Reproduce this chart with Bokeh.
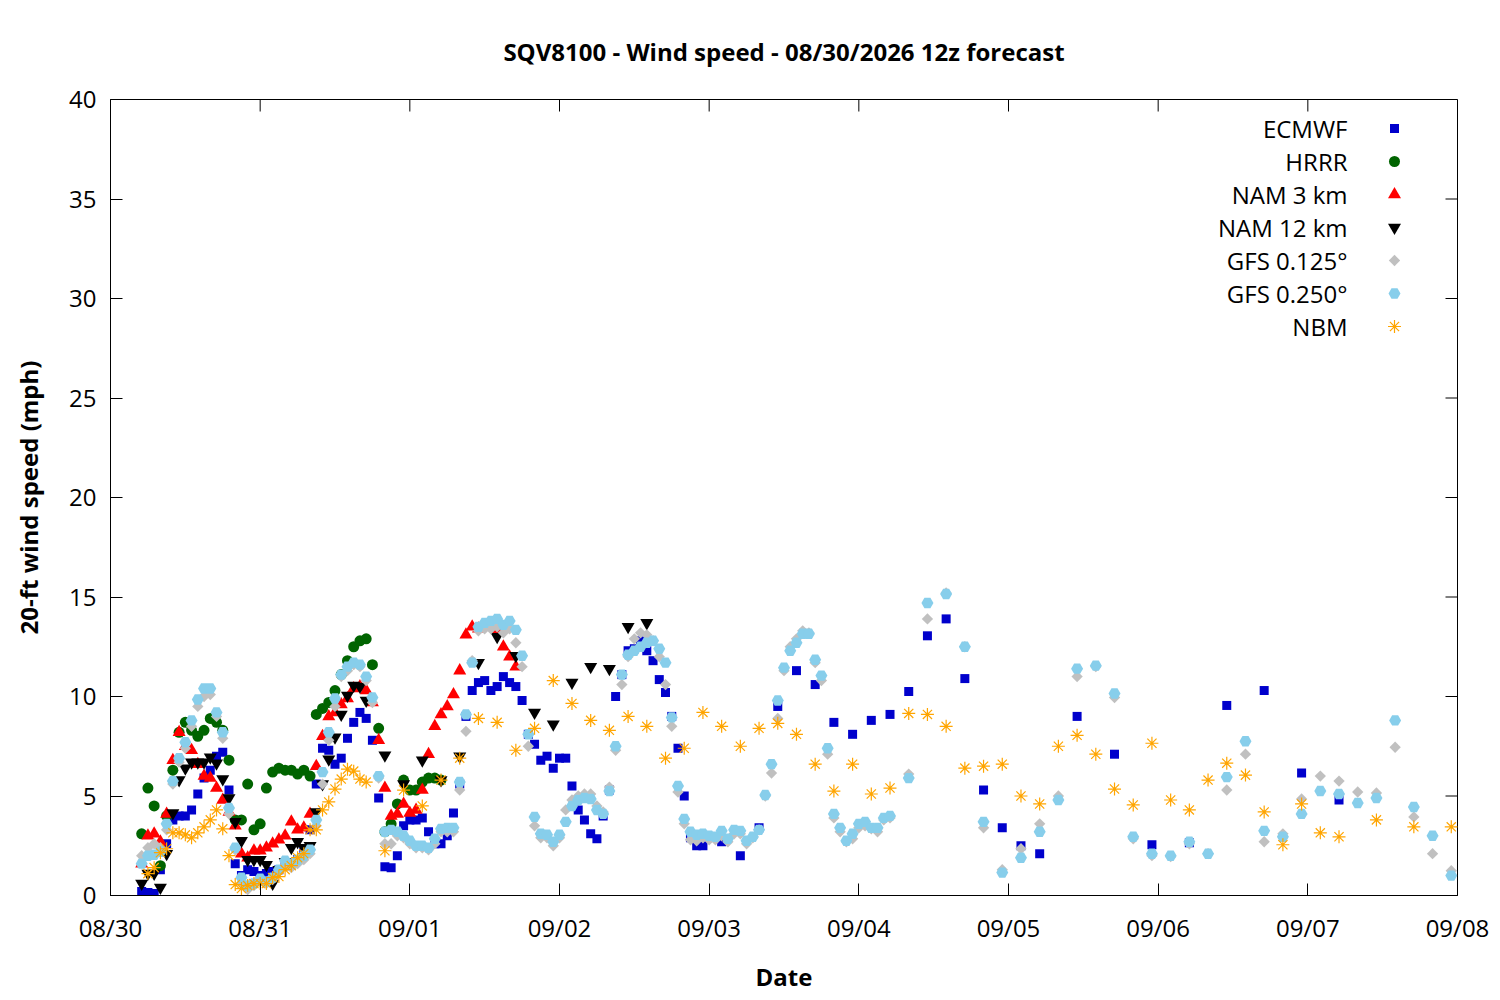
import math
from bokeh.plotting import figure
from bokeh.models import FixedTicker, Range1d, Label
from bokeh.embed import file_html
from bokeh.resources import INLINE

FONT = "Open Sans"
FS = "24px"

TITLE = "SQV8100 - Wind speed - 08/30/2026 12z forecast"
X_LABEL = "Date"
Y_LABEL = "20-ft wind speed (mph)"
DAY_LABELS = ["08/30", "08/31", "09/01", "09/02", "09/03", "09/04",
              "09/05", "09/06", "09/07", "09/08"]
Y_TICKS = [0, 5, 10, 15, 20, 25, 30, 35, 40]
INIT_HOUR = 5  # 12z run = 05 local on 08/30


def sched(*segs):
    out = []
    for a, b, s in segs:
        out.extend(range(a, b + 1, s))
    return out


# ---------------- forecast hours per model ----------------
ecmwf_fh = sched((0, 90, 1), (93, 144, 3), (150, 192, 6))
hrrr_fh = sched((0, 48, 1))
nam3_fh = sched((0, 60, 1))
nam12_fh = sched((0, 36, 1), (39, 81, 3))
gfs_fh = sched((0, 120, 1), (123, 210, 3))
nbm_fh = sched((1, 36, 1), (39, 192, 3), (198, 210, 6))

# ---------------- wind speeds (mph) ----------------
ecmwf = [0.2, 0.15, 0.1, 1.3, 2.6, 3.8, 4.0, 4.0, 4.3, 5.1,
         5.9, 6.3, 7.0, 7.2, 5.3, 1.6, 1.0, 1.3, 1.2, 1.0,
         1.1, 1.2, 1.3, 1.5, 1.6, 1.8, 2.3, 3.3, 5.6, 7.4,
         7.3, 6.6, 6.9, 7.9, 8.7, 9.2, 8.9, 7.8, 4.9, 1.45,
         1.4, 2.0, 3.5, 3.8, 3.8, 3.9, 3.2, 2.6, 2.6, 3.0,
         4.15, 5.6, 9.0, 10.3, 10.7, 10.8, 10.3, 10.5, 11.0, 10.7,
         10.5, 9.8, 8.1, 7.6, 6.8, 7.0, 6.4, 6.9, 6.9, 5.5,
         4.3, 3.8, 3.1, 2.85, 4.0, 5.3, 10.0, 11.1, 12.3, 12.4,
         12.8, 12.3, 11.8, 10.85, 10.2, 9.0, 7.4, 5.0, 2.9, 2.5,
         2.5,
         2.7, 2.0, 3.4, 9.5, 11.3, 10.6, 8.7, 8.1, 8.8, 9.1,
         10.25, 13.05, 13.9, 10.9, 5.3, 3.4, 2.5, 2.1,
         9.0, 7.1, 2.55, 2.65, 9.55, 10.3, 6.15, 4.8]

hrrr = [3.1, 5.4, 4.5, 1.5, 4.0, 6.3, 8.2, 8.7, 8.3, 8.0,
        8.3, 8.9, 8.7, 8.3, 6.8, 3.8, 3.8, 5.6, 3.3, 3.6,
        5.4, 6.2, 6.4, 6.3, 6.3, 6.1, 6.3, 6.0, 9.1, 9.4,
        9.7, 10.3, 11.1, 11.8, 12.5, 12.8, 12.9, 11.6, 8.4, 3.2,
        3.6, 4.6, 5.8, 5.3, 5.3, 5.7, 5.9, 5.9, 5.8]

nam3 = [1.6, 3.0, 3.1, 2.7, 4.1, 6.8, 8.2, 7.5, 7.3, 6.6,
        6.0, 5.9, 5.4, 4.8, 4.2, 3.5, 2.1, 1.9, 2.25, 2.25,
        2.4, 2.6, 2.8, 3.0, 3.7, 3.3, 3.4, 4.1, 6.5, 8.0,
        9.0, 9.2, 9.6, 9.9, 10.4, 10.5, 10.3, 9.7, 7.8, 5.4,
        4.0, 4.1, 4.6, 4.15, 4.3, 5.3, 7.1, 8.5, 9.1, 9.5,
        10.1, 11.3, 13.1, 13.5, 13.4, 13.5, 13.5, 13.35, 12.5, 12.0,
        11.5]

nam12 = [0.6, 1.1, 1.1, 0.4, 2.1, 4.15, 5.8, 6.4, 6.7, 6.7,
         6.7, 6.95, 6.65, 5.85, 4.9, 3.7, 2.75, 1.8, 1.8, 1.8,
         1.55, 0.6, 1.3, 1.7, 2.4, 2.7, 2.4, 2.5, 4.2, 5.6,
         6.85, 7.95, 9.1, 10.05, 10.55, 10.5, 9.8,
         7.05, 5.6, 6.8, 5.8, 7.0, 11.7, 13.0, 12.05, 9.2, 8.6,
         10.7, 11.5, 11.4, 13.5, 13.7]

gfs125 = [2.0, 2.4, 2.6, 2.4, 3.3, 5.6, 6.7, 7.4, 8.5, 9.5,
          10.0, 10.1, 9.0, 7.9, 4.1, 2.3, 0.6, 0.3, 0.5, 0.7,
          0.6, 0.8, 1.2, 1.5, 1.4, 1.6, 1.8, 2.1, 3.5, 5.6,
          7.8, 9.5, 11.0, 11.3, 11.6, 11.5, 10.8, 9.7, 5.9, 2.6,
          2.6, 3.0, 2.9, 2.6, 2.4, 2.4, 2.3, 2.6, 3.2, 3.2,
          3.2, 5.3, 8.25, 11.8, 13.3, 13.4, 13.4, 13.5, 13.2, 13.4,
          12.7, 11.5, 7.5, 3.5, 2.9, 2.9, 2.5, 2.9, 4.3, 4.8,
          5.0, 5.1, 5.1, 4.5, 4.2, 5.45, 7.3, 10.6, 12.0, 12.9,
          13.2, 13.1, 12.8, 12.0, 10.6, 8.5, 5.2, 3.6, 2.8, 2.75,
          2.9, 2.8, 2.8, 3.0, 2.7, 3.1, 3.1, 2.6, 2.9, 3.3,
          5.0, 6.15, 8.9, 11.3, 12.5, 12.9, 13.3, 13.2, 11.7, 10.8,
          7.1, 3.9, 3.2, 2.7, 2.85, 3.4, 3.5, 3.35, 3.2, 3.8, 3.9,
          6.1, 13.9, 15.2, 12.5, 3.4, 1.3, 2.35, 3.6, 5.0, 11.0,
          11.5, 9.95, 2.85, 2.0, 1.95, 2.6, 2.1, 5.3, 7.1, 2.7,
          3.1, 4.85, 6.0, 5.75, 5.2, 5.15, 7.45, 3.95, 2.1, 1.25]

gfs250 = [1.6, 2.0, 2.05, 2.2, 3.6, 5.75, 6.9, 7.7, 8.8, 9.85,
          10.4, 10.4, 9.2, 8.2, 4.4, 2.4, 0.9, 0.5, 0.6, 0.85,
          0.7, 0.9, 1.3, 1.75, 1.6, 1.8, 2.0, 2.3, 3.8, 6.2,
          8.2, 9.9, 11.1, 11.5, 11.7, 11.6, 11.0, 9.95, 6.0, 3.2,
          3.3, 3.2, 3.0, 2.75, 2.5, 2.5, 2.4, 2.85, 3.35, 3.4,
          3.4, 5.7, 9.1, 11.7, 13.5, 13.7, 13.8, 13.9, 13.6, 13.8,
          13.35, 12.05, 8.1, 3.95, 3.1, 3.05, 2.7, 3.05, 3.7, 4.5,
          4.8, 4.9, 4.85, 4.3, 4.1, 5.25, 7.5, 11.1, 12.1, 12.3,
          12.5, 12.7, 12.8, 12.4, 11.7, 8.95, 5.5, 3.85, 3.2, 3.05,
          3.1, 3.0, 2.95, 3.25, 2.85, 3.3, 3.25, 2.75, 2.95, 3.3,
          5.05, 6.6, 9.8, 11.45, 12.3, 12.7, 13.15, 13.15, 11.85, 11.05,
          7.4, 4.1, 3.4, 2.75, 3.1, 3.6, 3.7, 3.4, 3.4, 3.9, 4.0,
          5.9, 14.7, 15.15, 12.5, 3.7, 1.15, 1.9, 3.2, 4.8, 11.4,
          11.55, 10.15, 2.95, 2.1, 2.0, 2.7, 2.1, 5.95, 7.75, 3.25,
          2.95, 4.1, 5.25, 5.1, 4.65, 4.9, 8.8, 4.45, 3.0, 1.0]

nbm = [1.1, 1.4, 2.15, 2.35, 3.15, 3.15, 3.05, 2.9, 3.15, 3.45,
       3.8, 4.3, 3.35, 2.0, 0.55, 0.35, 0.5, 0.6, 0.6, 0.6,
       0.9, 0.95, 1.3, 1.5, 1.9, 2.1, 3.3, 3.3, 4.3, 4.7,
       5.35, 5.85, 6.35, 6.25, 5.85, 5.7,
       2.25, 5.3, 4.5, 5.8, 6.9, 8.9, 8.7, 7.3, 8.4, 10.8,
       9.65, 8.8, 8.3, 9.0, 8.5, 6.9, 7.4, 9.2, 8.5, 7.5,
       8.4, 8.65, 8.1, 6.6, 5.25, 6.6, 5.1, 5.4, 9.15, 9.1,
       8.5, 6.4, 6.5, 6.6, 5.0, 4.6, 7.5, 8.05, 7.1, 5.35,
       4.55, 7.65, 4.8, 4.3, 5.8, 6.65, 6.05, 4.2, 2.55, 4.6,
       3.15, 2.95,
       3.8, 3.45, 3.45]

SERIES = [
    ("ECMWF", ecmwf_fh, ecmwf, dict(marker="square", size=9, fill_color="#0000cc", line_color=None)),
    ("HRRR", hrrr_fh, hrrr, dict(marker="circle", size=11, fill_color="#006400", line_color=None)),
    ("NAM 3 km", nam3_fh, nam3, dict(marker="triangle", size=13, fill_color="#ff0000", line_color=None)),
    ("NAM 12 km", nam12_fh, nam12, dict(marker="inverted_triangle", size=13, fill_color="#000000", line_color=None)),
    ("GFS 0.125\u00b0", gfs_fh, gfs125, dict(marker="square", size=8, angle=math.pi / 4, fill_color="#c0c0c0", line_color=None)),
    ("GFS 0.250\u00b0", gfs_fh, gfs250, dict(marker="hex", size=12, fill_color="#87ceeb", line_color=None)),
    ("NBM", nbm_fh, nbm, dict(marker="asterisk", size=13, line_color="#ffa500", line_width=1.2)),
]

for name, fh, vals, _ in SERIES:
    assert len(fh) == len(vals), (name, len(fh), len(vals))

X0, X1 = 0, 216
Y0, Y1 = 0, 40
day_ticks = list(range(X0, X1 + 1, 24))

W_FRAME, H_FRAME = 1347.0, 796.0
TICK_PX = 12.0

p = figure(width=1490, height=995, output_backend="svg", toolbar_location=None,
           x_range=Range1d(X0, X1), y_range=Range1d(Y0, Y1),
           min_border_left=110, min_border_right=33, min_border_top=99, min_border_bottom=100,
           title=TITLE)
p.background_fill_color = "white"
p.border_fill_color = "white"
p.outline_line_color = "black"
p.outline_line_width = 1
p.grid.visible = False

p.title.align = "center"
p.title.text_font = FONT
p.title.text_font_size = FS
p.title.text_font_style = "bold"
p.title.text_color = "black"
p.title.standoff = 63

for ax in (p.xaxis[0], p.yaxis[0]):
    ax.major_tick_in = int(TICK_PX)
    ax.major_tick_out = 0
    ax.minor_tick_in = 0
    ax.minor_tick_out = 0
    ax.axis_line_color = "black"
    ax.major_tick_line_color = "black"
    ax.major_label_text_font = FONT
    ax.major_label_text_font_size = FS
    ax.major_label_text_color = "black"
    ax.axis_label_text_font = FONT
    ax.axis_label_text_font_size = FS
    ax.axis_label_text_font_style = "bold"
    ax.axis_label_text_color = "black"

p.xaxis.ticker = FixedTicker(ticks=day_ticks)
p.xaxis.major_label_overrides = {t: lab for t, lab in zip(day_ticks, DAY_LABELS)}
p.xaxis.major_label_standoff = 15
p.xaxis.axis_label = X_LABEL
p.xaxis.axis_label_standoff = 13

p.yaxis.ticker = FixedTicker(ticks=Y_TICKS)
p.yaxis.major_label_standoff = 14
p.yaxis.axis_label = Y_LABEL
p.yaxis.axis_label_standoff = 21

# mirrored inward ticks on top and right borders (gnuplot style)
dy_tick = (Y1 - Y0) * TICK_PX / H_FRAME
dx_tick = (X1 - X0) * TICK_PX / W_FRAME
p.segment(x0=day_ticks, y0=[Y1] * len(day_ticks), x1=day_ticks, y1=[Y1 - dy_tick] * len(day_ticks),
          line_color="black", line_width=1)
p.segment(x0=[X1] * len(Y_TICKS), y0=Y_TICKS, x1=[X1 - dx_tick] * len(Y_TICKS), y1=Y_TICKS,
          line_color="black", line_width=1)

for name, fh, vals, style in SERIES:
    xs = [INIT_HOUR + h for h in fh]
    p.scatter(xs, vals, **style)

# ---- legend (label left, sample right, like gnuplot key) ----
leg_text_x = X0 + (X1 - X0) * (1237.0 / W_FRAME)
leg_mark_x = X0 + (X1 - X0) * (1284.0 / W_FRAME)
for i, (name, fh, vals, style) in enumerate(SERIES):
    yy = Y1 - (Y1 - Y0) * ((29.0 + 33.0 * i) / H_FRAME)
    p.add_layout(Label(x=leg_text_x, y=yy, text=name, text_align="right",
                       text_baseline="middle", text_font=FONT, text_font_size=FS,
                       text_color="black"))
    p.scatter([leg_mark_x], [yy], **style)

open("out.html", "w").write(file_html(p, INLINE))
